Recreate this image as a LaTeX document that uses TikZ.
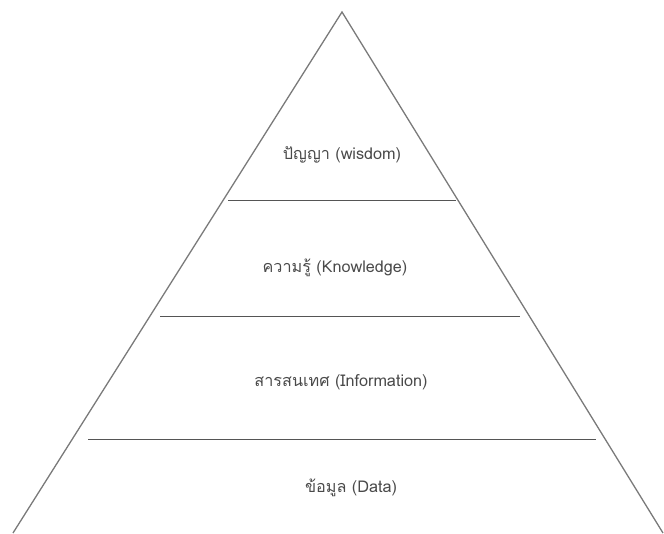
\documentclass[tikz,border=0pt]{standalone}
\usepackage{fontspec}
\newfontfamily\thaifont[Script=Thai]{Loma}
\usepackage{tikz}
\usetikzlibrary{positioning}
\definecolor{edgegray}{HTML}{7A7A7A}
\definecolor{linegray}{HTML}{555555}
\definecolor{textgray}{HTML}{4A4A4A}

\begin{document}
\begin{tikzpicture}[x=1pt, y=-1pt,
    side/.style={draw=edgegray, line width=1.3pt},
    divider/.style={draw=linegray, line width=0.9pt},
    layer/.style={font=\thaifont\fontsize{16.2}{19}\selectfont, text=textgray, inner sep=0pt}]
  \useasboundingbox (0,0) rectangle (664,533);
  % Outline
  \coordinate (apex) at (342,12);
  \coordinate (baseL) at (13,533);
  \coordinate (baseR) at (663,533);
  \draw[side] (baseL) -- (apex) -- (baseR);
  % Dividers
  \coordinate (d1L) at (228,200);
  \coordinate (d1R) at (456,200);
  \coordinate (d2L) at (160,316);
  \coordinate (d2R) at (520,316);
  \coordinate (d3L) at (88,439);
  \coordinate (d3R) at (596,439);
  \draw[divider] (d1L) -- (d1R);
  \draw[divider] (d2L) -- (d2R);
  \draw[divider] (d3L) -- (d3R);
  % Levels
  \node[layer] (wisdom) at (342,155) {ปัญญา (wisdom)};
  \node[layer] (knowledge) at (335,268) {ความรู้ (Knowledge)};
  \node[layer] (information) at (341,382) {สารสนเทศ (Information)};
  \node[layer] (data) at (351,488) {ข้อมูล (Data)};
\end{tikzpicture}
\end{document}
